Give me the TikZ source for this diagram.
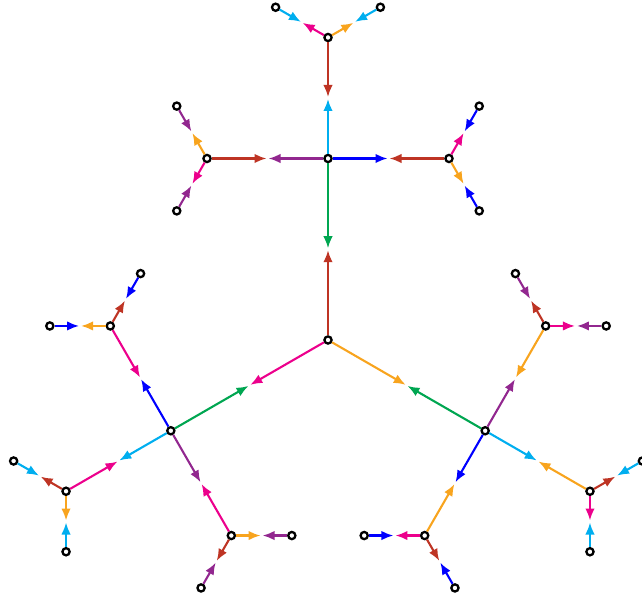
\documentclass[tikz,border=0pt]{standalone}
\usetikzlibrary{arrows.meta,calc}
\definecolor{cred}{RGB}{190,52,36}
\definecolor{cblue}{RGB}{0,0,255}
\definecolor{ccyan}{RGB}{0,174,239}
\definecolor{cgreen}{RGB}{0,166,81}
\definecolor{cmag}{RGB}{236,0,140}
\definecolor{corange}{RGB}{248,164,30}
\definecolor{cpurple}{RGB}{146,39,143}
\tikzset{
  vtx/.style={circle,draw=black,fill=white,line width=2.3pt,inner sep=0pt,minimum size=7.2pt},
  hl/.style={line width=2.1pt,-{Latex[length=12pt,width=9.5pt]},shorten >=1pt},
}
\newcommand\hedge[4]{\coordinate (mid) at ($(#1)!0.5!(#2)$);
  \draw[hl,#3] (#1) -- (mid); \draw[hl,#4] (#2) -- (mid);}
\begin{document}
\begin{tikzpicture}[x=1pt,y=1pt]
\useasboundingbox (0,0) rectangle (642,600);
\def\la{181.5pt}\def\lb{121pt}\def\lc{60.5pt}
\node[vtx] (C) at (328,260) {};
% level 1
\node[vtx] (U) at ($(C)+(90:\la)$) {};
\node[vtx] (L) at ($(C)+(210:\la)$) {};
\node[vtx] (R) at ($(C)+(330:\la)$) {};
% level 2
\node[vtx] (UU) at ($(U)+(90:\lb)$) {};
\node[vtx] (UL) at ($(U)+(180:\lb)$) {};
\node[vtx] (UR) at ($(U)+(0:\lb)$) {};
\node[vtx] (La) at ($(L)+(120:\lb)$) {};
\node[vtx] (Lb) at ($(L)+(210:\lb)$) {};
\node[vtx] (Lc) at ($(L)+(300:\lb)$) {};
\node[vtx] (Ra) at ($(R)+(60:\lb)$) {};
\node[vtx] (Rb) at ($(R)+(330:\lb)$) {};
\node[vtx] (Rc) at ($(R)+(240:\lb)$) {};
% leaves
\node[vtx] (UU1) at ($(UU)+(150:\lc)$) {};
\node[vtx] (UU2) at ($(UU)+(30:\lc)$) {};
\node[vtx] (UL1) at ($(UL)+(120:\lc)$) {};
\node[vtx] (UL2) at ($(UL)+(240:\lc)$) {};
\node[vtx] (UR1) at ($(UR)+(60:\lc)$) {};
\node[vtx] (UR2) at ($(UR)+(300:\lc)$) {};
\node[vtx] (La1) at ($(La)+(180:\lc)$) {};
\node[vtx] (La2) at ($(La)+(60:\lc)$) {};
\node[vtx] (Lb1) at ($(Lb)+(150:\lc)$) {};
\node[vtx] (Lb2) at ($(Lb)+(270:\lc)$) {};
\node[vtx] (Lc1) at ($(Lc)+(0:\lc)$) {};
\node[vtx] (Lc2) at ($(Lc)+(240:\lc)$) {};
\node[vtx] (Ra1) at ($(Ra)+(120:\lc)$) {};
\node[vtx] (Ra2) at ($(Ra)+(0:\lc)$) {};
\node[vtx] (Rb1) at ($(Rb)+(30:\lc)$) {};
\node[vtx] (Rb2) at ($(Rb)+(270:\lc)$) {};
\node[vtx] (Rc1) at ($(Rc)+(180:\lc)$) {};
\node[vtx] (Rc2) at ($(Rc)+(300:\lc)$) {};
% edges
\hedge{C}{U}{cred}{cgreen}
\hedge{C}{L}{cmag}{cgreen}
\hedge{C}{R}{corange}{cgreen}
\hedge{U}{UU}{ccyan}{cred}
\hedge{U}{UL}{cpurple}{cred}
\hedge{U}{UR}{cblue}{cred}
\hedge{UU}{UU1}{cmag}{ccyan}
\hedge{UU}{UU2}{corange}{ccyan}
\hedge{UL}{UL1}{corange}{cpurple}
\hedge{UL}{UL2}{cmag}{cpurple}
\hedge{UR}{UR1}{cmag}{cblue}
\hedge{UR}{UR2}{corange}{cblue}
\hedge{L}{La}{cblue}{cmag}
\hedge{L}{Lb}{ccyan}{cmag}
\hedge{L}{Lc}{cpurple}{cmag}
\hedge{La}{La1}{corange}{cblue}
\hedge{La}{La2}{cred}{cblue}
\hedge{Lb}{Lb1}{cred}{ccyan}
\hedge{Lb}{Lb2}{corange}{ccyan}
\hedge{Lc}{Lc1}{corange}{cpurple}
\hedge{Lc}{Lc2}{cred}{cpurple}
\hedge{R}{Ra}{cpurple}{corange}
\hedge{R}{Rb}{ccyan}{corange}
\hedge{R}{Rc}{cblue}{corange}
\hedge{Ra}{Ra1}{cred}{cpurple}
\hedge{Ra}{Ra2}{cmag}{cpurple}
\hedge{Rb}{Rb1}{cred}{ccyan}
\hedge{Rb}{Rb2}{cmag}{ccyan}
\hedge{Rc}{Rc1}{cmag}{cblue}
\hedge{Rc}{Rc2}{cred}{cblue}
\end{tikzpicture}
\end{document}
